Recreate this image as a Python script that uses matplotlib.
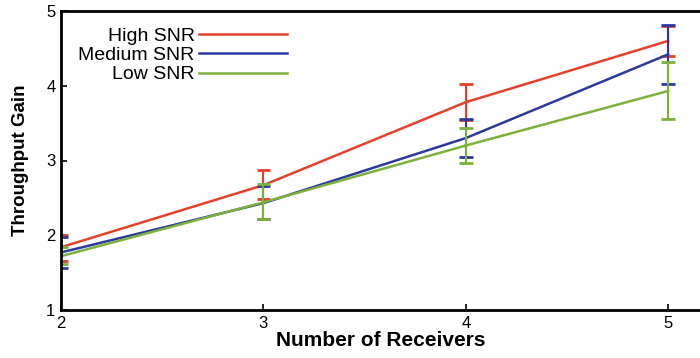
import matplotlib
matplotlib.use('Agg')
import matplotlib.pyplot as plt
from matplotlib.lines import Line2D
import numpy as np

plt.rcParams['font.family'] = ['Liberation Sans', 'DejaVu Sans']

receivers = [2, 3, 4, 5]

# mean throughput gain and error bar ends (low, high) per SNR level
high_snr = [1.84, 2.67, 3.78, 4.60]
high_lo = [1.66, 2.48, 3.54, 4.40]
high_hi = [2.00, 2.87, 4.02, 4.80]

med_snr = [1.77, 2.43, 3.30, 4.42]
med_lo = [1.56, 2.22, 3.05, 4.03]
med_hi = [1.97, 2.66, 3.56, 4.81]

low_snr = [1.72, 2.44, 3.20, 3.93]
low_lo = [1.62, 2.22, 2.96, 3.55]
low_hi = [1.84, 2.68, 3.43, 4.32]

series = [
    ('High SNR', high_snr, high_lo, high_hi, '#e5402a'),
    ('Medium SNR', med_snr, med_lo, med_hi, '#2b3a9c'),
    ('Low SNR', low_snr, low_lo, low_hi, '#7bb23c'),
]

fig = plt.figure(figsize=(7, 3.58), dpi=100)
ax = fig.add_axes([61/700, 48/358, 1 - 61/700, 299/358])

x = np.array(receivers)
cap = 0.034  # half cap width in data units
handles = []
for name, y, lo, hi, col in series:
    ax.plot(x, y, color=col, lw=1.8)
    ax.vlines(x, lo, hi, color=col, lw=1.5)
    ax.hlines(lo, x - cap, x + cap, color=col, lw=2)
    ax.hlines(hi, x - cap, x + cap, color=col, lw=2)
    handles.append(Line2D([], [], color=col, lw=1.8, label=name))

ax.set_xlim(2, 5 + 32/203.5)
ax.set_ylim(1, 5)
ax.set_xticks([2, 3, 4, 5])
ax.set_yticks([1, 2, 3, 4, 5])
ax.tick_params(direction='in', length=4, width=1.2, labelsize=12, pad=4)
for s in ['left', 'bottom', 'top']:
    ax.spines[s].set_linewidth(2)
ax.spines['right'].set_visible(False)

ax.set_xlabel('Number of Receivers', fontsize=15, fontweight='bold', labelpad=0)
ax.set_ylabel('Throughput Gain', fontsize=13.5, fontweight='bold', labelpad=12)

leg = ax.legend(handles=handles, loc='upper left', bbox_to_anchor=(0.027, 0.945),
                frameon=False, markerfirst=False, fontsize=14, handlelength=4.5,
                handletextpad=0.25, labelspacing=0.08, borderaxespad=0,
                borderpad=0)
for t in leg.get_texts():
    t.set_ha('right')

fig.savefig('out.png', dpi=100)
